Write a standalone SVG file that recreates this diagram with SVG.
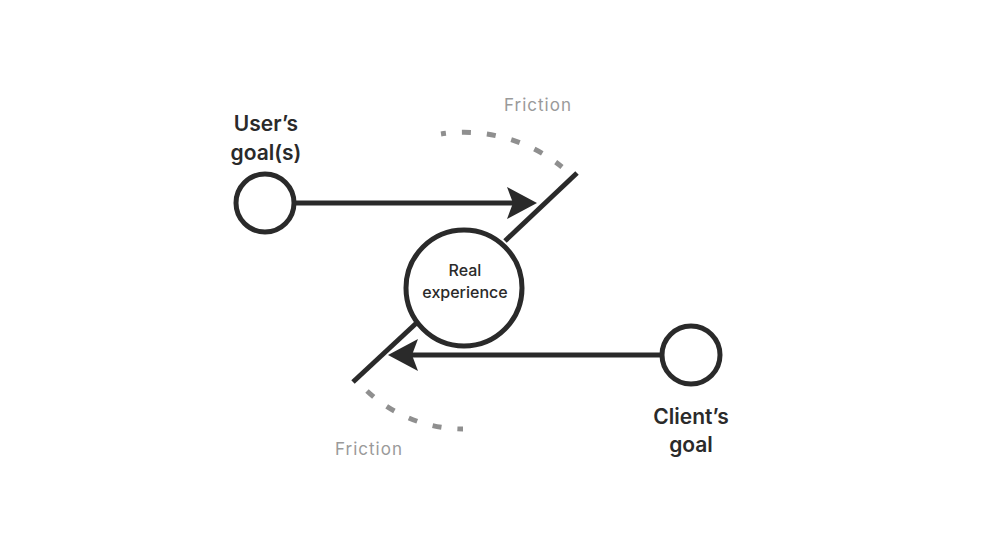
<svg xmlns="http://www.w3.org/2000/svg" width="1001" height="550" viewBox="0 0 1001 550">
<style>
.node{fill:#fff;stroke:#2a2a2a;stroke-width:5}
.edge{fill:none;stroke:#2a2a2a;stroke-width:5}
.fric{fill:none;stroke:#8f8f8f;stroke-width:5;stroke-dasharray:9 16}
.lbl{font-family:Inter,"Liberation Sans",sans-serif;font-weight:600;font-size:21px;fill:#2a2a2a;text-anchor:middle}
.inner{font-family:Inter,"Liberation Sans",sans-serif;font-weight:500;font-size:16px;fill:#2a2a2a;text-anchor:middle}
.ftxt{font-family:Inter,"Liberation Sans",sans-serif;font-weight:400;font-size:17px;fill:#9a9a9a;letter-spacing:1px}
</style>
<defs>
<marker id="arr" viewBox="0 -17 31 34" refX="6" refY="0" markerWidth="31" markerHeight="34" markerUnits="userSpaceOnUse" orient="auto">
<path d="M30,0 L0,-16 L6,0 L0,16 Z" fill="#2a2a2a"/>
</marker>
</defs>
<rect width="1001" height="550" fill="#fff"/>
<g id="connectors">
<line class="edge" x1="294" y1="203" x2="513" y2="203" marker-end="url(#arr)"/>
<line class="edge" x1="662" y1="355" x2="412" y2="355" marker-end="url(#arr)"/>
<line class="edge" x1="577" y1="173" x2="505" y2="241"/>
<line class="edge" x1="424" y1="316" x2="353" y2="382"/>
<path class="fric" style="stroke-dashoffset:4" d="M441,134 A156 156 0 0 1 562,167"/>
<path class="fric" d="M367,391 A141 141 0 0 0 463,429"/>
</g>
<g id="friction-top"><text class="ftxt" x="504" y="111">Friction</text></g>
<g id="friction-bottom"><text class="ftxt" x="335" y="455">Friction</text></g>
<g id="users-goal">
<circle class="node" cx="265" cy="203" r="29"/>
<text class="lbl" x="266" y="131">User’s</text>
<text class="lbl" x="266" y="160">goal(s)</text>
</g>
<g id="real-experience">
<circle class="node" cx="464" cy="288" r="58"/>
<text class="inner" x="465" y="276">Real</text>
<text class="inner" x="465" y="298">experience</text>
</g>
<g id="clients-goal">
<circle class="node" cx="691" cy="355" r="29"/>
<text class="lbl" x="691" y="424">Client’s</text>
<text class="lbl" x="691" y="452">goal</text>
</g>
</svg>
